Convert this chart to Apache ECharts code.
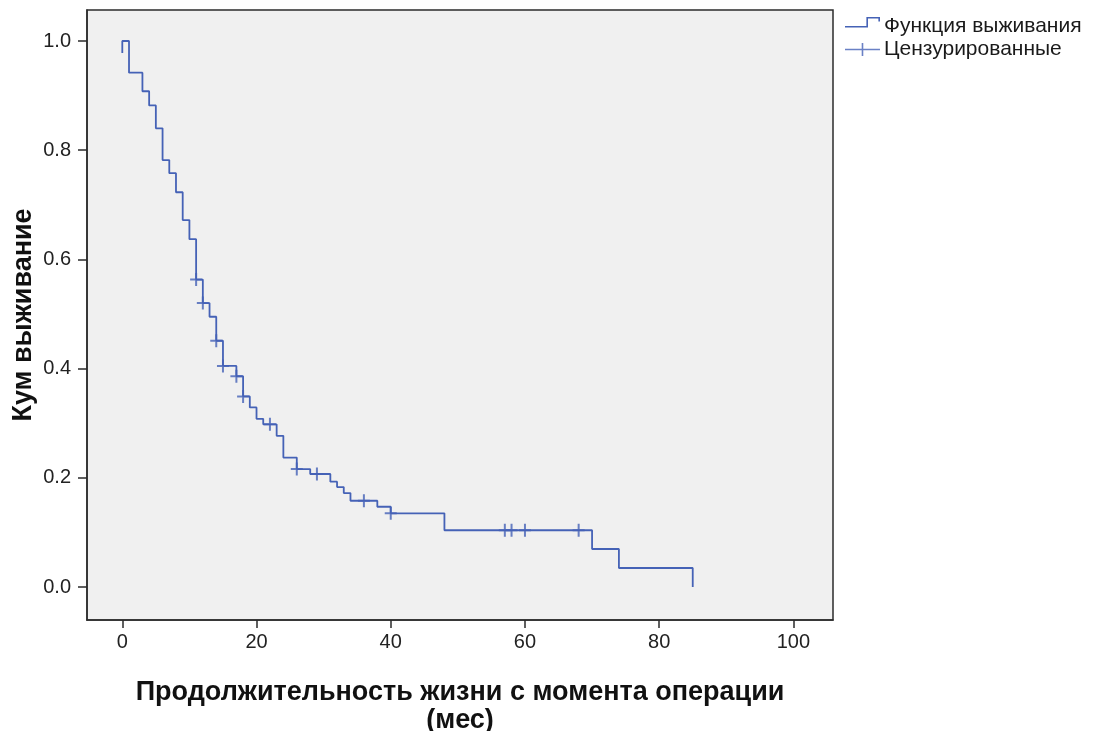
<!DOCTYPE html>
<html>
<head>
<meta charset="utf-8">
<title>Кум выживание</title>
<script src="https://cdn.jsdelivr.net/npm/echarts@6/dist/echarts.min.js"></script>
<style>
  html, body { margin: 0; padding: 0; background: #fff; }
  #chart { width: 1093px; height: 731px; }
</style>
</head>
<body>
<div id="chart"></div>
<script>
// ступенчатая кривая Каплана-Мейера (месяцы, доля выживших)
const stepTimes = [0, 0, 1, 3, 4, 5, 6, 7, 8, 9, 10, 11, 12, 13, 14, 15, 17, 18, 19, 20, 21, 23, 24, 26, 28, 31, 32, 33, 34, 38, 40, 48, 70, 74, 85]
const stepSurv = [0.978, 1.0, 0.942, 0.908, 0.882, 0.840, 0.782, 0.758, 0.723, 0.672, 0.637, 0.563, 0.520, 0.495, 0.451, 0.405, 0.386, 0.349, 0.329, 0.308, 0.298, 0.277, 0.237, 0.216, 0.207, 0.193, 0.183, 0.172, 0.158, 0.147, 0.135, 0.104, 0.0696, 0.0348, 0]

// цензурированные наблюдения
const censorTimes = [11, 12, 14, 15, 17, 18, 22, 26, 29, 36, 40, 57, 58, 60, 68]
const censorSurv = [0.563, 0.520, 0.451, 0.405, 0.386, 0.349, 0.298, 0.216, 0.207, 0.158, 0.135, 0.104, 0.104, 0.104, 0.104]

const xTicks = [0, 20, 40, 60, 80, 100]
const yTicks = [0, 0.2, 0.4, 0.6, 0.8, 1.0]

const lineName = 'Функция выживания'
const censorName = 'Цензурированные'
const blue = '#4562b6'
const dark = '#2b2b2b'
const font = "'Liberation Sans', Arial, sans-serif"

// иконки легенды (рамка 36x19)
const stepIcon = 'path://M0,0h0.01v0.01h-0.01z M36,19h0.01v0.01h-0.01z M0,9h23v1.6h-23z M21.4,0h1.6v10.6h-1.6z M21.4,0h13.6v1.6h-13.6z M33.4,0h1.6v4.5h-1.6z'
const plusIcon = 'path://M0,0h0.01v0.01h-0.01z M36,19h0.01v0.01h-0.01z M0,8.7h35v1.6h-35z M16.7,3h1.6v13h-1.6z'
const plusSymbol = 'path://M0,5.5h12v2h-12z M5,0h2v13h-2z'

const chart = echarts.init(document.getElementById('chart'))

const option = {
  backgroundColor: '#fff',
  animation: false,
  textStyle: { fontFamily: font },
  grid: {
    left: 87,
    top: 10,
    right: 260,
    bottom: 111,
    outerBoundsMode: 'none',
    containLabel: false,
    show: true,
    backgroundColor: '#f0f0f0',
    borderColor: dark,
    borderWidth: 1.5
  },
  legend: {
    orient: 'vertical',
    left: 845,
    top: 16,
    padding: 0,
    itemWidth: 36,
    itemHeight: 19,
    itemGap: 2,
    itemStyle: { borderWidth: 0 },
    textStyle: { color: '#1a1a1a', fontSize: 21, fontFamily: font, padding: [0, 0, 0, -2] },
    data: [
      { name: lineName, icon: stepIcon },
      { name: censorName, icon: plusIcon }
    ]
  },
  xAxis: {
    type: 'value',
    min: -5.26,
    max: 105.9,
    name: 'Продолжительность жизни с момента операции\n(мес)',
    nameLocation: 'middle',
    nameGap: 59,
    nameMoveOverlap: false,
    nameTextStyle: { color: '#111', fontSize: 27, fontWeight: 'bold', lineHeight: 28, fontFamily: font },
    axisLine: { show: true, onZero: false, lineStyle: { color: dark, width: 1.5 } },
    axisTick: { show: true, length: 8, customValues: xTicks, lineStyle: { color: dark, width: 1.5 } },
    axisLabel: { color: '#222', fontSize: 20, margin: 12, customValues: xTicks },
    splitLine: { show: false }
  },
  yAxis: {
    type: 'value',
    min: -0.0604,
    max: 1.0568,
    name: 'Кум выживание',
    nameLocation: 'middle',
    nameGap: 50,
    nameMoveOverlap: false,
    nameTextStyle: { color: '#111', fontSize: 27, fontWeight: 'bold', fontFamily: font },
    axisLine: { show: true, onZero: false, lineStyle: { color: dark, width: 1.5 } },
    axisTick: { show: true, length: 9, customValues: yTicks, lineStyle: { color: dark, width: 1.5 } },
    axisLabel: {
      color: '#222',
      fontSize: 20,
      margin: 16,
      customValues: yTicks,
      formatter: (v) => Number(v).toFixed(1)
    },
    splitLine: { show: false }
  },
  series: [
    {
      name: lineName,
      type: 'line',
      step: 'end',
      symbol: 'none',
      color: blue,
      lineStyle: { color: blue, width: 1.8 },
      data: stepTimes.map((t, i) => [t, stepSurv[i]]),
      z: 3
    },
    {
      name: censorName,
      type: 'scatter',
      symbol: plusSymbol,
      symbolSize: [12, 13],
      color: blue,
      itemStyle: { color: blue },
      data: censorTimes.map((t, i) => [t, censorSurv[i]]),
      z: 4
    }
  ]
}

chart.setOption(option)
</script>
</body>
</html>
